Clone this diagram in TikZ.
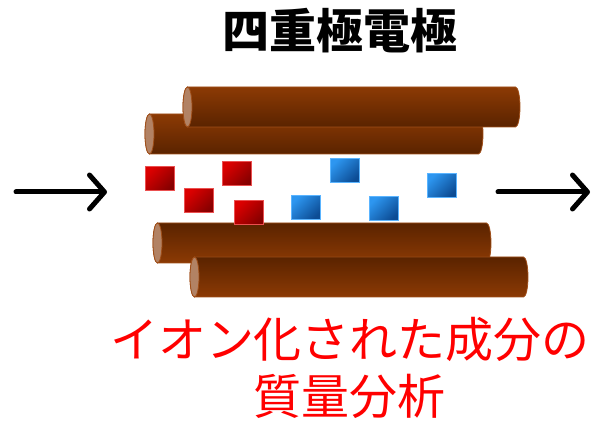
\documentclass[tikz,border=0pt]{standalone}
\usepackage{fontspec}
\usepackage{xcolor}
\usetikzlibrary{arrows.meta}
\newfontfamily\jpfont{Noto Sans CJK JP}

\definecolor{rodlight}{RGB}{140,58,4}
\definecolor{roddark}{RGB}{90,35,0}
\definecolor{rodedge}{RGB}{160,78,24}
\definecolor{rodcapfill}{RGB}{178,130,100}
\definecolor{ionredhi}{RGB}{220,0,0}
\definecolor{ionredlo}{RGB}{135,0,0}
\definecolor{ionrededge}{RGB}{235,80,80}
\definecolor{ionbluehi}{RGB}{45,150,240}
\definecolor{ionbluelo}{RGB}{12,76,148}
\definecolor{ionblueedge}{RGB}{90,180,255}

\begin{document}
\begin{tikzpicture}[
    x=1pt, y=-1pt,
    rodline/.style={draw=rodedge, line width=0.8pt},
    rodup/.style={rodline, top color=rodlight, bottom color=roddark},
    roddown/.style={rodline, top color=roddark, bottom color=rodlight},
    rodcap/.style={draw=rodedge, line width=0.8pt, fill=rodcapfill},
    ion/.style={anchor=north west, minimum width=29pt, minimum height=24pt,
                inner sep=0pt, line width=1pt},
    ionred/.style={ion, draw=ionrededge, top color=ionredhi, bottom color=ionredlo, shading angle=45},
    ionblue/.style={ion, draw=ionblueedge, top color=ionbluehi, bottom color=ionbluelo, shading angle=45},
    flow/.style={line width=5pt, line cap=round,
                 -{Straight Barb[length=15pt, width=34pt, line cap=round, line join=round]}}
]
\useasboundingbox (0,0) rectangle (595,422);

% title
\node[font={\jpfont\bfseries\fontsize{47}{52}\selectfont}] (title) at (340,31) {四重極電極};

% upper pair of rods (the right-shifted one sits in front)
\draw[rodup] (149.5,114) -- (478.5,114) arc[start angle=-90, end angle=90, x radius=4.5, y radius=20]
    -- (149.5,154) arc[start angle=90, end angle=270, x radius=4.5, y radius=20] -- cycle;
\draw[rodcap] (149.5,134) ellipse[x radius=4.5, y radius=20];
\draw[rodup] (187.5,87) -- (515.5,87) arc[start angle=-90, end angle=90, x radius=4.5, y radius=20]
    -- (187.5,127) arc[start angle=90, end angle=270, x radius=4.5, y radius=20] -- cycle;
\draw[rodcap] (187.5,107) ellipse[x radius=4.5, y radius=20];

% lower pair of rods
\draw[roddown] (157.5,223) -- (486.5,223) arc[start angle=-90, end angle=90, x radius=4.5, y radius=20]
    -- (157.5,263) arc[start angle=90, end angle=270, x radius=4.5, y radius=20] -- cycle;
\draw[rodcap] (157.5,243) ellipse[x radius=4.5, y radius=20];
\draw[roddown] (194.5,257) -- (523.5,257) arc[start angle=-90, end angle=90, x radius=4.5, y radius=20]
    -- (194.5,297) arc[start angle=90, end angle=270, x radius=4.5, y radius=20] -- cycle;
\draw[rodcap] (194.5,277) ellipse[x radius=4.5, y radius=20];

% ions
\node[ionred] (r1) at (145,166) {};
\node[ionred] (r2) at (222,161) {};
\node[ionred] (r3) at (184,188) {};
\node[ionred] (r4) at (234,200) {};
\node[ionblue] (b1) at (330,158) {};
\node[ionblue] (b2) at (291,195) {};
\node[ionblue] (b3) at (369,196) {};
\node[ionblue] (b4) at (427,173) {};

% beam in / out
\coordinate (inA) at (16,192);
\coordinate (inB) at (107,192);
\coordinate (outA) at (498,192);
\coordinate (outB) at (590,192);
\draw[flow] (inA) -- (inB);
\draw[flow] (outA) -- (outB);

% caption
\node[font={\jpfont\fontsize{48}{57}\selectfont}, text=red, align=center] (caption) at (350,368)
    {イオン化された成分の\\質量分析};
\end{tikzpicture}
\end{document}
